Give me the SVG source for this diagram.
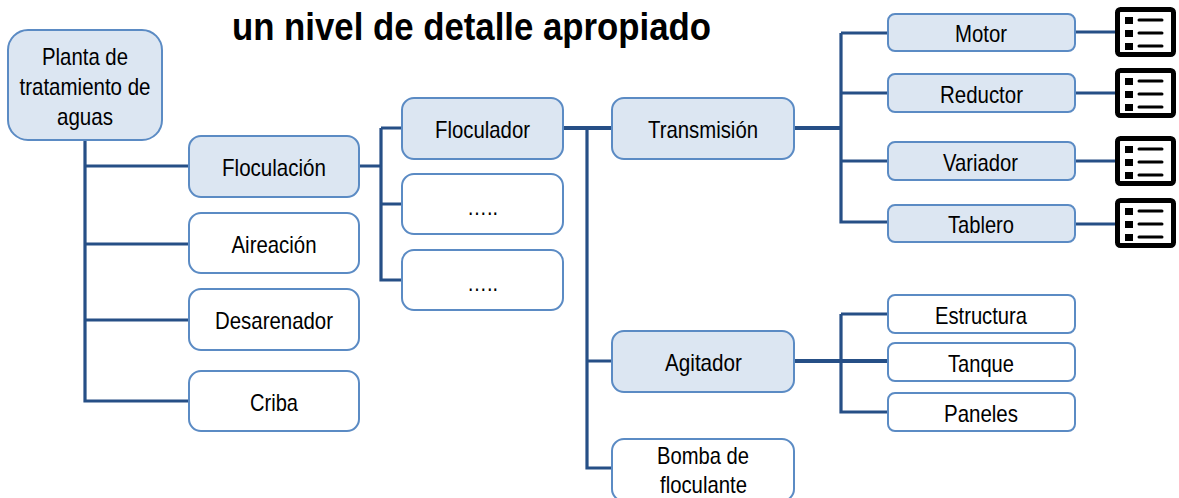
<svg xmlns="http://www.w3.org/2000/svg" width="1179" height="498" viewBox="0 0 1179 498">
<style>
text{font-family:"Liberation Sans",Arial,sans-serif;fill:#000;text-anchor:middle;font-size:24px}
.t{font-size:38px;font-weight:bold}
.f{fill:#dce6f2;stroke:#5b8bc4;stroke-width:2}
.w{fill:#fff;stroke:#5b8bc4;stroke-width:2}
.c{fill:none;stroke:#264f86;stroke-width:3.2}
.h{stroke-width:4}
.i{fill:#fff;stroke:#000;stroke-width:5}
.k{fill:#000}
.l{stroke:#000;stroke-width:3;stroke-linecap:round;fill:none}
</style>
<defs>
<g id="listicon">
<rect class="i" x="2.5" y="2.5" width="56" height="45" rx="3"/>
<rect class="k" x="10" y="10" width="8" height="7"/><rect class="k" x="10" y="23" width="8" height="7"/><rect class="k" x="10" y="36" width="8" height="7"/>
<path class="l" d="M24 13H47M24 26H47M24 39H47"/>
</g>
</defs>
<g id="title"><text class="t" x="471.5" y="40" textLength="479" lengthAdjust="spacingAndGlyphs">un nivel de detalle apropiado</text></g>
<g id="connectors">
<path class="c" d="M85 140V401H189M85 166H189M85 244H189M85 320H189"/>
<path class="c" d="M359 166H381M381 128V280H402M381 128H402M381 204H402"/>
<path class="c" d="M587 128V468H612M587 361H612"/>
<path class="c h" d="M563 128H612"/>
<path class="c" d="M841 33V222H888M841 33H888M841 93H888M841 161H888"/>
<path class="c h" d="M794 128H841"/>
<path class="c" d="M841 314V412H888M841 314H888"/>
<path class="c h" d="M794 361H888"/>
<path class="c" d="M1075 32H1116M1075 93H1116M1075 161H1116M1075 224H1116"/>
</g>
<g id="n-planta"><rect class="f" x="8" y="30" width="154" height="110" rx="20"/><text x="85" y="65" textLength="86" lengthAdjust="spacingAndGlyphs">Planta de</text><text x="85" y="95" textLength="131" lengthAdjust="spacingAndGlyphs">tratamiento de</text><text x="85" y="125" textLength="56" lengthAdjust="spacingAndGlyphs">aguas</text></g>
<g id="n-floculacion"><rect class="f" x="189" y="136" width="170" height="61" rx="12"/><text x="274" y="176" textLength="104" lengthAdjust="spacingAndGlyphs">Floculación</text></g>
<g id="n-aireacion"><rect class="w" x="189" y="213" width="170" height="60" rx="12"/><text x="274" y="253" textLength="85" lengthAdjust="spacingAndGlyphs">Aireación</text></g>
<g id="n-desarenador"><rect class="w" x="189" y="289" width="170" height="61" rx="12"/><text x="274" y="329" textLength="118" lengthAdjust="spacingAndGlyphs">Desarenador</text></g>
<g id="n-criba"><rect class="w" x="189" y="371" width="170" height="60" rx="12"/><text x="274" y="411" textLength="48" lengthAdjust="spacingAndGlyphs">Criba</text></g>
<g id="n-floculador"><rect class="f" x="402" y="98" width="161" height="61" rx="12"/><text x="482.5" y="138" textLength="95" lengthAdjust="spacingAndGlyphs">Floculador</text></g>
<g id="n-dots1"><rect class="w" x="402" y="174" width="161" height="60" rx="12"/><text x="482.5" y="215" textLength="31" lengthAdjust="spacingAndGlyphs">…..</text></g>
<g id="n-dots2"><rect class="w" x="402" y="250" width="161" height="60" rx="12"/><text x="482.5" y="291" textLength="31" lengthAdjust="spacingAndGlyphs">…..</text></g>
<g id="n-transmision"><rect class="f" x="612" y="98" width="182" height="61" rx="12"/><text x="703" y="138" textLength="110" lengthAdjust="spacingAndGlyphs">Transmisión</text></g>
<g id="n-agitador"><rect class="f" x="612" y="331" width="182" height="61" rx="12"/><text x="703.5" y="371" textLength="77" lengthAdjust="spacingAndGlyphs">Agitador</text></g>
<g id="n-bomba"><rect class="w" x="612" y="439" width="182" height="62" rx="12"/><text x="703" y="464" textLength="92" lengthAdjust="spacingAndGlyphs">Bomba de</text><text x="703.5" y="493" textLength="87" lengthAdjust="spacingAndGlyphs">floculante</text></g>
<g id="n-motor"><rect class="f" x="888" y="14" width="187" height="37" rx="7"/><text x="981" y="42" textLength="52" lengthAdjust="spacingAndGlyphs">Motor</text></g>
<g id="n-reductor"><rect class="f" x="888" y="74" width="187" height="38" rx="7"/><text x="981.5" y="103" textLength="83" lengthAdjust="spacingAndGlyphs">Reductor</text></g>
<g id="n-variador"><rect class="f" x="888" y="142" width="187" height="38" rx="7"/><text x="980.5" y="171" textLength="75" lengthAdjust="spacingAndGlyphs">Variador</text></g>
<g id="n-tablero"><rect class="f" x="888" y="205" width="187" height="37" rx="7"/><text x="981" y="233" textLength="66" lengthAdjust="spacingAndGlyphs">Tablero</text></g>
<g id="n-estructura"><rect class="w" x="888" y="295" width="187" height="38" rx="7"/><text x="981" y="324" textLength="92" lengthAdjust="spacingAndGlyphs">Estructura</text></g>
<g id="n-tanque"><rect class="w" x="888" y="343" width="187" height="38" rx="7"/><text x="981" y="372" textLength="66" lengthAdjust="spacingAndGlyphs">Tanque</text></g>
<g id="n-paneles"><rect class="w" x="888" y="393" width="187" height="38" rx="7"/><text x="981" y="422" textLength="74" lengthAdjust="spacingAndGlyphs">Paneles</text></g>
<g id="icon-motor"><use href="#listicon" x="1115" y="7"/></g>
<g id="icon-reductor"><use href="#listicon" x="1115" y="68"/></g>
<g id="icon-variador"><use href="#listicon" x="1115" y="136"/></g>
<g id="icon-tablero"><use href="#listicon" x="1115" y="198"/></g>
</svg>
